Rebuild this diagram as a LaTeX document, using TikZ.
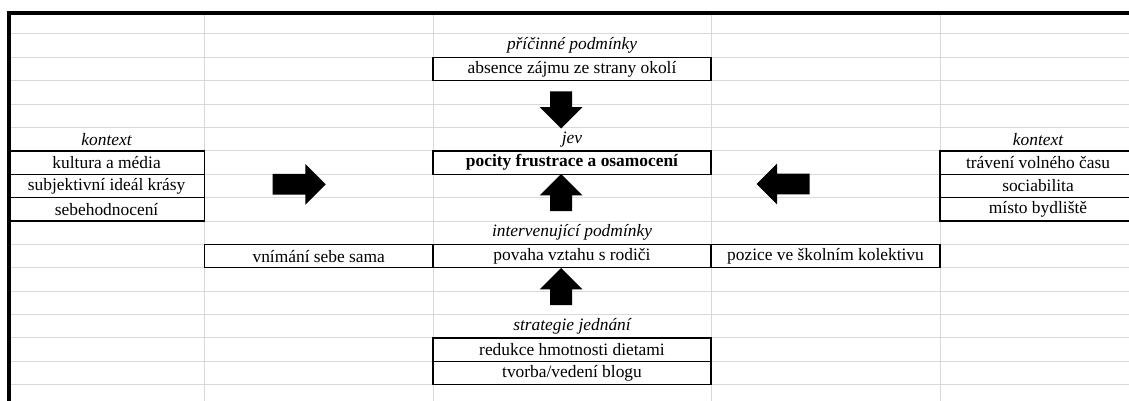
\documentclass[tikz,border=0pt]{standalone}
\usepackage{fontspec}
\setmainfont{Liberation Serif}
\usetikzlibrary{shapes.arrows}

\begin{document}
\begin{tikzpicture}[
    x=0.5pt, y=-0.5pt,
    font=\fontsize{8.7}{10}\selectfont,
    grid/.style={draw=black!15, line width=0.5pt},
    frame/.style={draw=black, line width=1.9pt},
    cell/.style={rectangle, draw, line width=0.7pt, inner sep=0pt, minimum height=11.69pt},
    head/.style={inner sep=0pt, font=\fontsize{8.7}{10}\selectfont\itshape},
    blockarrow/.style={single arrow, fill=black, draw=none, inner xsep=0pt, inner ysep=5pt,
        single arrow head extend=5pt, minimum height=26.5pt},
    vertarrow/.style={blockarrow, inner ysep=5.3pt, single arrow head extend=5.2pt, minimum height=18.5pt}
]
\useasboundingbox (0,0) rectangle (1129,401);
\clip (0,0) rectangle (1129,401);

% sheet grid
\foreach \r in {0,...,15}
    \draw[grid] (8.7,{34+\r*23.38}) -- (1129,{34+\r*23.38});
\foreach \c in {204.5,433,711,940}
    \draw[grid] (\c,13) -- (\c,401);
\draw[frame] (8.7,401) -- (8.7,13.3) -- (1129,13.3);

% causes
\node[head] (causelab) at (572,45.7) {příčinné podmínky};
\node[cell, minimum width=139pt] (cause) at (572,69.1) {absence zájmu ze strany okolí};

% phenomenon
\node[head] (phenlab) at (572,139.2) {jev};
\node[cell, minimum width=139pt, font=\fontsize{8.7}{10}\selectfont\bfseries] (phen) at (572,162.6) {pocity frustrace a osamocení};

% context, left
\node[head] (ctxlab1) at (106.6,139.2) {kontext};
\node[cell, minimum width=97.9pt] (ctx1a) at (106.6,162.6) {kultura a média};
\node[cell, minimum width=97.9pt] (ctx1b) at (106.6,186) {subjektivní ideál krásy};
\node[cell, minimum width=97.9pt] (ctx1c) at (106.6,209.4) {sebehodnocení};

% context, right
\node[head] (ctxlab2) at (1038,139.2) {kontext};
\node[cell, minimum width=98pt] (ctx2a) at (1038,162.6) {trávení volného času};
\node[cell, minimum width=98pt] (ctx2b) at (1038,186) {sociabilita};
\node[cell, minimum width=98pt] (ctx2c) at (1038,209.4) {místo bydliště};

% intervening conditions
\node[head] (intlab) at (572,232.7) {intervenující podmínky};
\node[cell, minimum width=114.25pt] (int1) at (318.75,256.1) {vnímání sebe sama};
\node[cell, minimum width=139pt] (int2) at (572,256.1) {povaha vztahu s rodiči};
\node[cell, minimum width=114.5pt] (int3) at (825.5,256.1) {pozice ve školním kolektivu};

% strategies
\node[head] (stratlab) at (572,326.3) {strategie jednání};
\node[cell, minimum width=139pt] (strat1) at (572,349.6) {redukce hmotnosti dietami};
\node[cell, minimum width=139pt] (strat2) at (572,373) {tvorba/vedení blogu};

% arrows
\node[vertarrow, rotate=-90] (arrcause) at (561,104.5) {};
\node[blockarrow] (arrctx1) at (294,184.3) {};
\node[blockarrow, rotate=180] (arrctx2) at (788.3,184) {};
\node[vertarrow, rotate=90] (arrint) at (561,198) {};
\node[vertarrow, rotate=90] (arrstrat) at (561,292) {};

\end{tikzpicture}
\end{document}
